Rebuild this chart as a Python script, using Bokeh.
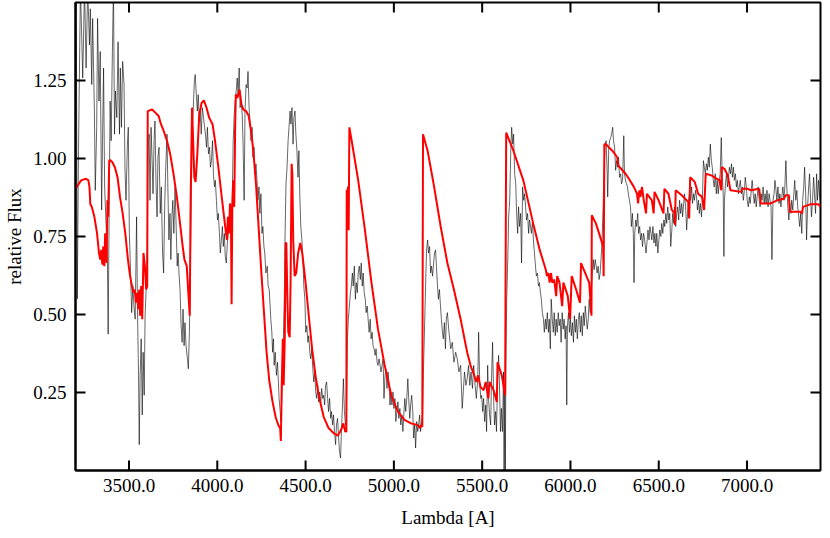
from bokeh.plotting import figure
from bokeh.models import FixedTicker, Range1d
from bokeh.embed import file_html
from bokeh.resources import INLINE

# ---------------- data ----------------
x_ticks = [3500, 4000, 4500, 5000, 5500, 6000, 6500, 7000]
x_tick_labels = ["3500.0", "4000.0", "4500.0", "5000.0", "5500.0", "6000.0", "6500.0", "7000.0"]
y_ticks = [0.25, 0.5, 0.75, 1.0, 1.25]
y_tick_labels = ["0.25", "0.50", "0.75", "1.00", "1.25"]

# observed spectrum (wavelength [A], relative flux)
observed_3200_4300 = [
    (3201,1.55),(3207,0.55),(3214,1.025),(3225,1.55),(3238,1.258),(3248,1.55),(3257,1.29),(3266,1.55),
    (3276,1.364),(3281,1.48),(3289,1.237),(3294,1.449),(3304,1.152),(3309,0.898),(3317,1.10),(3322,1.449),
    (3330,1.184),(3337,1.343),(3345,0.835),(3350,1.057),(3356,1.29),(3362,0.909),(3369,0.803),(3377,0.707),
    (3382,0.437),(3388,0.866),(3393,1.184),(3399,1.057),(3406,1.343),(3412,1.55),(3418,1.078),(3423,1.216),
    (3431,1.131),(3438,1.374),(3446,1.078),(3451,1.29),(3457,1.10),(3464,1.311),(3472,1.237),(3477,0.972),
    (3483,0.866),(3491,1.046),(3496,1.10),(3502,0.76),(3509,0.633),(3515,0.506),(3522,0.591),(3528,0.527),
    (3535,0.485),(3543,0.813),(3548,0.517),(3554,0.305),(3558,0.083),(3563,0.305),(3569,0.422),(3575,0.178),
    (3580,0.379),(3586,0.241),(3591,0.496),(3597,0.58),(3603,0.697),(3608,1.036),(3614,1.078),(3619,0.866),
    (3625,1.10),(3631,0.993),(3636,0.887),(3642,1.057),(3647,1.12),(3653,0.919),(3659,0.813),(3664,1.004),
    (3670,1.036),(3677,0.824),(3683,0.909),(3690,0.697),(3696,0.633),(3702,0.845),(3707,0.951),(3715,1.078),
    (3720,0.909),(3726,0.739),(3732,0.824),(3737,0.676),(3743,0.813),(3748,0.866),(3754,0.76),(3761,0.909),
    (3767,0.782),(3773,0.655),(3778,0.697),(3784,0.623),(3789,0.58),(3795,0.464),(3801,0.411),(3806,0.517),
    (3812,0.40),(3817,0.474),(3823,0.40),(3831,0.358),(3836,0.326),(3842,0.443),(3847,0.623),(3853,0.887),
    (3859,1.10),(3864,1.163),(3870,1.247),(3875,1.269),(3881,1.205),(3887,1.152),(3892,1.205),(3898,1.12),
    (3903,1.152),(3909,1.078),(3915,1.163),(3920,1.142),(3928,1.10),(3933,1.078),(3939,1.036),(3944,1.10),
    (3950,1.015),(3956,1.036),(3961,0.972),(3967,0.993),(3973,1.057),(3978,0.951),(3984,0.909),(3989,0.93),
    (3995,0.866),(4001,0.803),(4006,0.824),(4012,0.76),(4017,0.697),(4023,0.739),(4029,0.782),(4034,0.718),
    (4040,0.76),(4045,0.686),(4051,0.665),(4057,0.729),(4062,0.76),(4068,0.813),(4073,0.845),(4079,0.76),
    (4085,0.877),(4090,1.057),(4096,1.142),(4101,1.184),(4107,1.216),(4113,1.258),(4118,1.205),(4124,1.29),
    (4129,1.163),(4135,1.184),(4141,1.142),(4146,1.046),(4152,0.866),(4157,1.152),(4163,1.237),(4169,1.226),
    (4174,1.279),(4180,1.163),(4185,1.12),(4191,1.057),(4197,1.10),(4202,1.004),(4208,1.036),(4213,0.951),
    (4219,0.983),(4225,0.93),(4230,0.866),(4236,0.909),(4241,0.824),(4247,0.887),(4253,0.76),(4258,0.782),
    (4264,0.718),(4269,0.697),(4275,0.633),(4283,0.655),(4288,0.591),(4294,0.58),
]
observed_4300_5300 = [
    (4303,0.485),(4309,0.443),(4313,0.379),(4318,0.422),(4322,0.337),(4328,0.379),(4335,0.305),(4341,0.347),
    (4346,0.284),(4350,0.231),(4356,0.189),(4361,0.157),(4365,0.231),(4369,0.316),(4374,0.422),(4380,0.57),
    (4384,0.76),(4389,0.919),(4395,0.972),(4401,1.057),(4406,1.10),(4412,1.152),(4417,1.11),(4423,1.163),
    (4429,1.046),(4434,1.131),(4440,1.152),(4445,1.078),(4451,1.025),(4457,0.94),(4462,1.025),(4468,0.866),
    (4473,0.782),(4479,0.739),(4485,0.676),(4490,0.591),(4496,0.549),(4501,0.443),(4507,0.464),(4513,0.411),
    (4518,0.432),(4524,0.379),(4529,0.358),(4535,0.39),(4541,0.326),(4546,0.284),(4552,0.316),(4557,0.252),
    (4563,0.231),(4569,0.273),(4574,0.22),(4580,0.252),(4585,0.21),(4591,0.263),(4597,0.231),(4602,0.241),
    (4608,0.21),(4613,0.273),(4619,0.284),(4625,0.231),(4630,0.189),(4636,0.231),(4642,0.167),(4647,0.189),
    (4653,0.146),(4658,0.178),(4664,0.125),(4670,0.083),(4675,0.146),(4681,0.167),(4686,0.114),(4692,0.061),
    (4698,0.04),(4703,0.125),(4709,0.21),(4714,0.294),(4720,0.189),(4726,0.146),(4731,0.167),(4737,0.422),
    (4742,0.485),(4748,0.527),(4754,0.57),(4759,0.591),(4765,0.633),(4770,0.591),(4776,0.655),(4782,0.549),
    (4787,0.602),(4793,0.57),(4798,0.633),(4804,0.655),(4810,0.612),(4815,0.665),(4821,0.591),(4826,0.633),
    (4832,0.57),(4838,0.549),(4843,0.506),(4849,0.527),(4854,0.485),(4860,0.443),(4866,0.485),(4871,0.422),
    (4877,0.443),(4882,0.40),(4888,0.39),(4894,0.369),(4899,0.39),(4905,0.347),(4910,0.337),(4916,0.358),
    (4922,0.337),(4927,0.316),(4933,0.337),(4939,0.358),(4944,0.231),(4950,0.305),(4955,0.326),(4961,0.263),
    (4967,0.316),(4972,0.284),(4978,0.21),(4983,0.252),(4989,0.21),(4995,0.252),(5000,0.199),(5006,0.231),
    (5011,0.157),(5017,0.189),(5023,0.22),(5028,0.167),(5034,0.199),(5039,0.146),(5045,0.178),(5051,0.125),
    (5056,0.178),(5062,0.231),(5067,0.189),(5073,0.231),(5079,0.294),(5084,0.231),(5090,0.167),(5095,0.21),
    (5101,0.241),(5107,0.189),(5112,0.104),(5118,0.146),(5123,0.072),(5129,0.157),(5135,0.125),(5140,0.146),
    (5146,0.178),(5151,0.125),(5157,0.157),(5163,0.178),(5168,0.337),(5174,0.464),(5180,0.602),(5185,0.707),
    (5191,0.739),(5196,0.697),(5202,0.718),(5208,0.633),(5213,0.655),(5219,0.623),(5225,0.665),(5230,0.697),
    (5236,0.707),(5241,0.655),(5247,0.591),(5252,0.549),(5258,0.58),(5264,0.527),(5269,0.485),(5275,0.443),
    (5280,0.422),(5286,0.474),(5292,0.39),(5297,0.485),
]
observed_5300_6400 = [
    (5303,0.506),(5312,0.443),(5322,0.39),(5331,0.411),(5340,0.347),(5350,0.379),(5359,0.358),(5368,0.316),
    (5378,0.337),(5387,0.199),(5393,0.252),(5400,0.316),(5408,0.273),(5415,0.294),(5423,0.337),(5430,0.273),
    (5437,0.316),(5445,0.263),(5452,0.337),(5460,0.273),(5467,0.231),(5475,0.294),(5480,0.443),(5486,0.284),
    (5492,0.231),(5497,0.241),(5503,0.189),(5508,0.231),(5514,0.157),(5520,0.21),(5525,0.125),(5531,0.337),
    (5536,0.231),(5542,0.178),(5548,0.146),(5553,0.294),(5559,0.411),(5565,0.231),(5570,0.146),(5576,0.189),
    (5581,0.125),(5587,0.284),(5593,0.369),(5598,0.273),(5604,0.125),(5609,0.199),(5615,0.125),(5621,0.316),
    (5624,-0.05),(5628,0.25),(5631,-0.05),(5634,0.337),(5639,0.549),(5645,0.676),(5650,0.813),(5656,0.866),
    (5662,1.025),(5667,1.10),(5673,1.046),(5678,1.078),(5684,0.951),(5690,0.919),(5695,0.824),(5701,0.76),
    (5706,0.845),(5712,0.782),(5718,0.824),(5723,0.665),(5729,0.909),(5735,0.866),(5740,0.887),(5746,0.845),
    (5751,0.803),(5757,0.824),(5763,0.76),(5768,0.803),(5774,0.782),(5779,0.76),(5785,0.803),(5790,0.739),
    (5796,0.697),(5802,0.655),(5807,0.623),(5813,0.633),(5819,0.591),(5824,0.602),(5830,0.57),(5835,0.549),
    (5841,0.506),(5847,0.485),(5852,0.443),(5858,0.485),(5863,0.453),(5869,0.506),(5875,0.443),(5880,0.485),
    (5886,0.39),(5891,0.549),(5897,0.485),(5903,0.443),(5908,0.506),(5914,0.432),(5919,0.485),(5925,0.443),
    (5931,0.506),(5936,0.464),(5942,0.485),(5947,0.411),(5953,0.506),(5959,0.453),(5964,0.485),(5970,0.422),
    (5975,0.464),(5979,0.21),(5983,0.464),(5989,0.506),(5994,0.443),(6000,0.485),(6005,0.432),(6011,0.474),
    (6017,0.411),(6022,0.496),(6028,0.443),(6033,0.485),(6039,0.422),(6045,0.485),(6050,0.506),(6056,0.443),
    (6061,0.496),(6067,0.432),(6073,0.506),(6078,0.464),(6084,0.527),(6090,0.485),(6095,0.453),(6101,0.485),
    (6106,0.549),(6112,0.506),(6117,0.57),(6123,0.623),(6129,0.676),(6134,0.644),(6140,0.676),(6146,0.655),
    (6151,0.633),(6157,0.655),(6162,0.612),(6168,0.633),(6173,0.676),(6179,0.739),(6185,0.845),(6190,0.951),
    (6196,1.046),(6202,1.057),(6207,0.972),(6211,0.877),(6217,1.036),(6222,1.057),(6228,1.067),(6233,1.078),
    (6239,1.10),(6244,1.057),(6250,1.036),(6256,0.962),(6261,0.993),(6267,0.972),(6272,1.004),(6278,0.94),
    (6284,0.951),(6289,0.919),(6295,0.93),(6302,1.073),(6306,0.951),(6312,0.93),(6317,0.919),(6323,0.909),
    (6328,0.887),(6334,0.866),(6340,0.845),(6345,0.782),(6351,0.824),(6356,0.76),(6360,0.602),(6364,0.76),
    (6370,0.803),(6375,0.782),(6381,0.824),(6386,0.76),(6392,0.782),(6397,0.739),
]
observed_6400_7420 = [
    (6403,0.76),(6408,0.718),(6414,0.76),(6420,0.739),(6428,0.697),(6433,0.729),(6439,0.771),(6445,0.739),
    (6450,0.782),(6456,0.76),(6461,0.739),(6467,0.782),(6473,0.729),(6478,0.76),(6484,0.718),(6489,0.76),
    (6495,0.697),(6501,0.739),(6506,0.771),(6512,0.75),(6517,0.792),(6523,0.76),(6529,0.803),(6534,0.782),
    (6540,0.824),(6545,0.792),(6551,0.845),(6557,0.803),(6562,0.824),(6568,0.718),(6574,0.771),(6579,0.824),
    (6585,0.792),(6590,0.845),(6596,0.782),(6602,0.824),(6607,0.845),(6613,0.803),(6618,0.866),(6624,0.824),
    (6630,0.856),(6635,0.813),(6641,0.856),(6646,0.887),(6652,0.845),(6658,0.771),(6663,0.824),(6669,0.866),
    (6674,0.887),(6680,0.866),(6686,0.909),(6691,0.856),(6697,0.887),(6702,0.866),(6708,0.898),(6714,0.877),
    (6719,0.835),(6725,0.866),(6730,0.824),(6736,0.856),(6742,0.813),(6747,0.866),(6753,0.993),(6758,0.972),
    (6764,0.951),(6770,0.983),(6775,0.962),(6781,1.004),(6786,0.972),(6792,1.046),(6798,0.993),(6803,0.972),
    (6809,0.93),(6814,0.909),(6820,0.951),(6826,0.887),(6831,0.93),(6837,0.887),(6843,0.93),(6848,0.951),
    (6854,1.067),(6859,0.951),(6865,0.887),(6869,0.686),(6872,0.866),(6878,0.919),(6884,0.951),(6889,0.909),
    (6895,0.94),(6900,0.972),(6906,0.951),(6912,0.983),(6917,0.94),(6923,0.972),(6928,0.93),(6934,0.951),
    (6940,0.909),(6945,0.93),(6951,0.887),(6956,0.909),(6962,0.93),(6968,0.887),(6973,0.909),(6979,0.866),
    (6985,0.898),(6990,0.94),(6996,0.909),(7001,0.866),(7007,0.845),(7013,0.877),(7018,0.856),(7024,0.898),
    (7029,0.93),(7035,0.887),(7041,0.856),(7046,0.887),(7052,0.845),(7057,0.877),(7063,0.909),(7069,0.866),
    (7074,0.845),(7080,0.887),(7085,0.866),(7091,0.909),(7097,0.856),(7102,0.887),(7108,0.856),(7113,0.898),
    (7119,0.845),(7125,0.887),(7130,0.866),(7136,0.845),(7141,0.676),(7147,0.866),(7153,0.887),(7158,0.93),
    (7164,0.898),(7169,0.866),(7175,0.909),(7181,0.856),(7186,0.887),(7192,0.845),(7197,0.877),(7203,0.909),
    (7209,0.866),(7214,0.909),(7220,0.993),(7225,0.909),(7231,0.845),(7237,0.803),(7242,0.856),(7248,0.824),
    (7253,0.866),(7259,0.835),(7265,0.887),(7270,0.93),(7276,0.866),(7282,0.898),(7287,0.845),(7293,0.813),
    (7298,0.782),(7304,0.824),(7310,0.76),(7315,0.866),(7321,0.909),(7326,0.972),(7332,0.887),(7337,0.739),
    (7343,0.845),(7349,0.909),(7354,0.951),(7360,0.866),(7365,0.813),(7371,0.866),(7377,0.94),(7382,0.887),
    (7388,0.824),(7394,0.951),(7399,0.866),(7405,0.93),(7410,0.887),(7414,0.866),
]

# model spectrum (wavelength [A], relative flux)
model_3200_4300 = [
    (3197,0.903),(3229,0.93),(3257,0.935),(3270,0.93),(3276,0.909),(3281,0.853),(3289,0.845),(3304,0.813),
    (3319,0.76),(3330,0.697),(3337,0.676),(3343,0.707),(3349,0.66),(3354,0.718),(3360,0.655),(3365,0.76),
    (3373,0.665),(3378,0.866),(3382,0.813),(3388,0.993),(3393,0.995),(3406,0.988),(3420,0.972),(3435,0.94),
    (3449,0.877),(3464,0.824),(3479,0.76),(3494,0.676),(3506,0.623),(3517,0.591),(3524,0.57),(3532,0.58),
    (3539,0.538),(3547,0.57),(3552,0.517),(3558,0.58),(3563,0.496),(3569,0.591),(3575,0.485),(3582,0.697),
    (3590,0.655),(3597,0.58),(3603,0.591),(3606,1.152),(3631,1.157),(3649,1.147),(3668,1.136),(3681,1.11),
    (3696,1.089),(3715,1.057),(3733,1.015),(3752,0.951),(3771,0.877),(3789,0.792),(3804,0.718),(3814,0.676),
    (3827,0.655),(3836,0.57),(3844,0.496),(3849,0.866),(3857,1.163),(3862,1.078),(3870,0.94),(3877,0.925),
    (3887,1.015),(3898,1.142),(3911,1.178),(3924,1.186),(3939,1.163),(3954,1.131),(3973,1.11),(3987,1.057),
    (4006,0.972),(4023,0.887),(4036,0.824),(4047,0.771),(4055,0.739),(4060,0.813),(4066,0.76),(4072,0.856),
    (4077,0.824),(4081,0.533),(4085,0.845),(4090,0.93),(4096,0.845),(4101,1.099),(4105,1.205),(4114,1.194),
    (4126,1.221),(4137,1.173),(4148,1.157),(4163,1.152),(4178,1.136),(4191,1.089),(4204,1.025),(4219,0.919),
    (4234,0.78),(4249,0.64),(4264,0.51),(4279,0.38),(4294,0.29),
]
model_4300_5300 = [
    (4313,0.22),(4331,0.17),(4346,0.145),(4356,0.135),(4360,0.095),(4365,0.273),(4371,0.422),(4376,0.273),
    (4382,0.422),(4387,0.729),(4391,0.729),(4397,0.549),(4402,0.443),(4410,0.427),(4415,0.602),(4421,0.983),
    (4425,0.95),(4430,0.739),(4438,0.623),(4447,0.633),(4458,0.697),(4470,0.729),(4481,0.697),(4500,0.602),
    (4518,0.496),(4537,0.39),(4556,0.305),(4574,0.241),(4602,0.173),(4630,0.136),(4658,0.12),(4683,0.112),
    (4696,0.125),(4705,0.136),(4714,0.151),(4724,0.125),(4731,0.125),(4733,0.90),(4736,0.77),(4740,0.91),
    (4744,0.77),(4748,1.10),(4761,1.057),(4798,0.93),(4836,0.771),(4873,0.602),(4910,0.453),(4948,0.337),
    (4985,0.241),(5023,0.189),(5060,0.162),(5097,0.151),(5135,0.146),(5148,0.136),(5157,0.146),(5161,0.14),
    (5165,1.078),(5191,1.025),(5228,0.909),(5265,0.782),
]
model_5300_6400 = [
    (5303,0.665),(5340,0.58),(5378,0.485),(5415,0.379),(5434,0.337),(5452,0.31),(5467,0.284),(5477,0.305),
    (5490,0.268),(5508,0.257),(5520,0.284),(5535,0.231),(5542,0.284),(5565,0.257),(5583,0.22),(5587,0.347),
    (5611,0.305),(5630,0.241),(5636,1.083),(5677,1.025),(5733,0.93),(5789,0.792),(5826,0.707),(5860,0.644),
    (5867,0.623),(5875,0.633),(5882,0.602),(5890,0.633),(5897,0.602),(5908,0.612),(5919,0.559),(5925,0.623),
    (5938,0.602),(5953,0.527),(5960,0.602),(5985,0.559),(5998,0.485),(6007,0.623),(6032,0.58),(6054,0.538),
    (6060,0.665),(6106,0.602),(6119,0.496),(6121,0.818),(6144,0.792),(6162,0.76),(6185,0.718),(6188,0.623),
    (6192,1.046),(6200,1.046),(6237,1.025),(6265,1.004),(6271,0.977),(6312,0.951),(6331,0.935),(6359,0.909),
    (6377,0.887),(6383,0.856),(6390,0.898),(6396,0.877),
]
model_6400_7420 = [
    (6405,0.909),(6415,0.866),(6420,0.85),(6428,0.824),(6433,0.887),(6461,0.866),(6471,0.824),(6476,0.893),
    (6499,0.866),(6527,0.824),(6532,0.903),(6555,0.887),(6574,0.835),(6589,0.824),(6592,0.787),(6596,0.898),
    (6630,0.882),(6667,0.861),(6672,0.808),(6678,0.94),(6704,0.925),(6723,0.887),(6745,0.877),(6757,0.835),
    (6766,0.951),(6798,0.946),(6844,0.93),(6854,0.898),(6857,0.972),(6872,0.967),(6891,0.946),(6906,0.898),
    (6966,0.893),(6975,0.903),(7003,0.903),(7022,0.898),(7069,0.903),(7078,0.856),(7134,0.856),(7171,0.866),
    (7209,0.871),(7218,0.882),(7237,0.882),(7242,0.829),(7302,0.829),(7311,0.824),(7317,0.845),(7358,0.853),
    (7405,0.853),(7416,0.845),
]

x_min, x_max = 3197, 7416
y_min, y_max = 0.0, 1.5

observed = observed_3200_4300 + observed_4300_5300 + observed_5300_6400 + observed_6400_7420
model = model_3200_4300 + model_4300_5300 + model_5300_6400 + model_6400_7420
obs_wl = [w for w, f in observed]
obs_flux = [f for w, f in observed]
mod_wl = [w for w, f in model]
mod_flux = [f for w, f in model]

FONT = "Liberation Serif"
FSIZE = "19px"

W, H = 822, 530
B_LEFT, B_RIGHT, B_TOP, B_BOTTOM = 75, 2, 2, 60
TICK_PX = 10
LW = 2

p = figure(width=W, height=H,
           x_range=Range1d(x_min, x_max), y_range=Range1d(y_min, y_max),
           output_backend="svg", toolbar_location=None,
           x_axis_label="Lambda [A]", y_axis_label="relative Flux",
           min_border_left=B_LEFT, min_border_right=B_RIGHT,
           min_border_top=B_TOP, min_border_bottom=B_BOTTOM)
p.grid.visible = False
p.outline_line_color = "black"
p.outline_line_width = LW
p.background_fill_color = "white"
p.border_fill_color = "white"


def style_axis(ax, ticks, labels):
    ax.ticker = FixedTicker(ticks=ticks)
    ax.major_tick_in = 0
    ax.major_tick_out = 0
    ax.major_tick_line_color = None
    ax.minor_tick_line_color = None
    ax.axis_line_width = LW
    ax.axis_line_color = "black"
    ax.major_label_overrides = dict(zip(ticks, labels))
    ax.major_label_text_font = FONT
    ax.major_label_text_font_size = FSIZE
    ax.major_label_text_color = "black"
    ax.axis_label_text_font = FONT
    ax.axis_label_text_font_size = FSIZE
    ax.axis_label_text_font_style = "normal"
    ax.axis_label_text_color = "black"


style_axis(p.xaxis[0], x_ticks, x_tick_labels)
p.xaxis[0].major_label_standoff = 8
p.xaxis[0].axis_label_standoff = 12
style_axis(p.yaxis[0], y_ticks, y_tick_labels)
p.yaxis[0].major_label_standoff = 9
p.yaxis[0].axis_label_standoff = 5

p.line(obs_wl, obs_flux, line_color="black", line_width=0.6)
p.line(mod_wl, mod_flux, line_color="#ff0000", line_width=2)

# inward ticks on all four edges of the frame (drawn as glyphs so they sit inside the frame)
frame_w = W - B_LEFT - B_RIGHT
frame_h = H - B_TOP - B_BOTTOM
dy = TICK_PX * (y_max - y_min) / frame_h
dx = TICK_PX * (x_max - x_min) / frame_w
nx, ny = len(x_ticks), len(y_ticks)
# top and bottom
p.segment(x0=x_ticks, y0=[y_max] * nx, x1=x_ticks, y1=[y_max - dy] * nx, line_color="black", line_width=LW)
p.segment(x0=x_ticks, y0=[y_min] * nx, x1=x_ticks, y1=[y_min + dy] * nx, line_color="black", line_width=LW)
# right and left
p.segment(x0=[x_max] * ny, y0=y_ticks, x1=[x_max - dx] * ny, y1=y_ticks, line_color="black", line_width=LW)
p.segment(x0=[x_min] * ny, y0=y_ticks, x1=[x_min + dx] * ny, y1=y_ticks, line_color="black", line_width=LW)

open("out.html", "w").write(file_html(p, INLINE))
